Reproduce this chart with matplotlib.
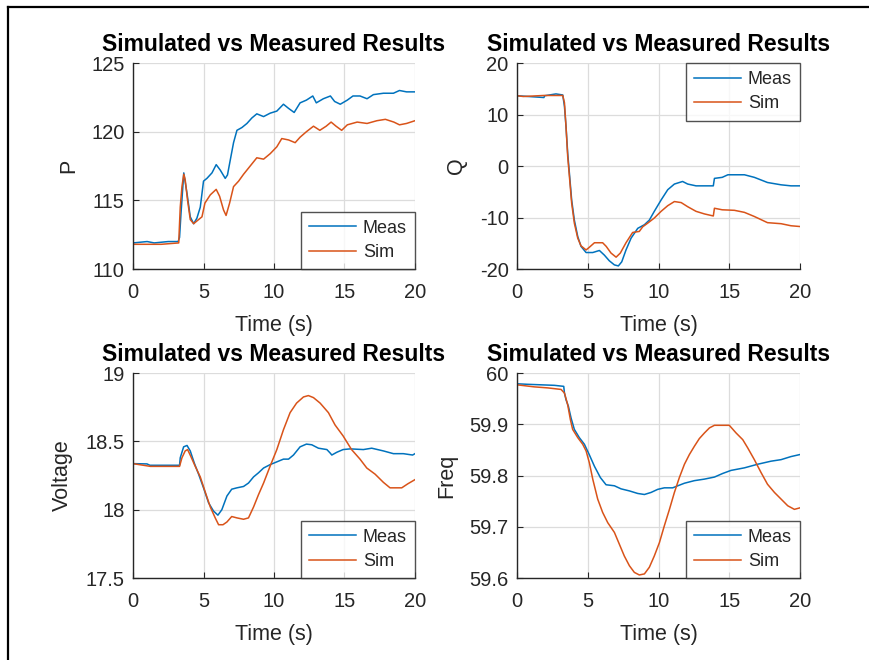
import matplotlib as mpl
mpl.use('Agg')
import matplotlib.pyplot as plt
from matplotlib.lines import Line2D

plt.rcParams['font.family'] = ['Liberation Sans', 'DejaVu Sans']

# ---- P ----
p_meas_t = [0, 1.0, 1.5, 2.5, 3.2, 3.3, 3.4, 3.6, 3.83, 4.06, 4.3, 4.53, 4.77, 5.0, 5.24, 5.6, 5.9, 6.19,
            6.54, 6.7, 6.9, 7.13, 7.37, 7.72, 8.08, 8.43, 8.78, 9.26, 9.73, 10.2, 10.67, 11.03, 11.43, 11.85,
            12.3, 12.75, 13.0, 13.5, 14.0, 14.3, 14.7, 15.2, 15.6, 16.1, 16.6, 17.05, 17.76, 18.47, 18.9,
            19.4, 20]
p_meas = [111.9, 112.0, 111.9, 112.0, 112.0, 112.3, 114.0, 117.0, 115.5, 113.8, 113.3, 113.7, 114.5, 116.4,
          116.6, 117.0, 117.6, 117.2, 116.6, 116.85, 117.95, 119.2, 120.1, 120.3, 120.6, 121.0, 121.3, 121.1,
          121.35, 121.5, 122.0, 121.7, 121.4, 122.1, 122.3, 122.6, 122.1, 122.4, 122.6, 122.2, 122.0, 122.3,
          122.6, 122.6, 122.4, 122.7, 122.8, 122.8, 123.0, 122.9, 122.9]
p_sim_t = [0, 1.0, 2.0, 3.24, 3.35, 3.47, 3.6, 3.7, 3.87, 4.06, 4.3, 4.65, 4.89, 5.1, 5.48, 5.9, 6.14, 6.42,
           6.6, 6.85, 7.13, 7.49, 7.84, 8.31, 8.78, 9.26, 9.73, 10.2, 10.55, 11.03, 11.5, 11.85, 12.3, 12.8,
           13.25, 13.7, 14.05, 14.4, 14.8, 15.2, 15.9, 16.6, 17.3, 17.9, 18.5, 18.9, 19.4, 20]
p_sim = [111.8, 111.8, 111.8, 111.9, 114.5, 116.0, 116.9, 116.5, 115.0, 113.6, 113.3, 113.6, 113.8, 114.8,
         115.4, 115.8, 115.3, 114.3, 113.9, 114.8, 116.0, 116.4, 116.9, 117.5, 118.1, 118.0, 118.4, 118.9,
         119.5, 119.4, 119.2, 119.6, 120.0, 120.4, 120.1, 120.4, 120.7, 120.4, 120.1, 120.5, 120.7, 120.6,
         120.8, 120.9, 120.7, 120.5, 120.6, 120.8]

# ---- Q ----
q_meas_t = [0, 1.9, 1.95, 2.75, 3.23, 3.35, 3.46, 3.58, 3.7, 3.86, 4.05, 4.29, 4.52, 4.88, 5.35, 5.82, 6.17,
            6.52, 6.88, 7.16, 7.4, 7.7, 8.06, 8.53, 9.0, 9.35, 9.7, 10.18, 10.65, 11.12, 11.7, 12.06, 12.65,
            13.24, 13.87, 13.95, 14.5, 14.9, 15.5, 16.07, 16.77, 17.7, 18.66, 19.36, 20]
q_meas = [13.65, 13.3, 13.65, 14.0, 13.8, 11.6, 7.7, 2.5, -1.4, -6.6, -10.5, -13.7, -15.6, -16.8, -16.8,
          -16.4, -17.3, -18.4, -19.2, -19.4, -18.6, -16.3, -14.0, -12.1, -11.4, -10.5, -8.8, -6.6, -4.6,
          -3.5, -3.0, -3.5, -3.85, -3.85, -3.85, -2.4, -2.2, -1.7, -1.7, -1.7, -2.2, -3.2, -3.65, -3.85, -3.85]
q_sim_t = [0, 0.45, 1.9, 3.23, 3.35, 3.46, 3.58, 3.7, 3.86, 4.05, 4.29, 4.52, 4.88, 5.1, 5.47, 6.05, 6.3,
           6.64, 7.0, 7.3, 7.7, 8.17, 8.64, 8.88, 9.23, 9.7, 10.18, 10.65, 11.12, 11.6, 12.06, 12.65, 13.24,
           13.87, 13.95, 14.5, 15.36, 16.07, 16.77, 17.7, 18.66, 19.36, 20]
q_sim = [13.65, 13.5, 13.7, 13.7, 12.3, 7.7, 1.85, -2.0, -7.2, -11.1, -14.0, -15.5, -16.3, -15.8, -14.9,
         -14.9, -15.6, -16.9, -17.7, -16.9, -14.9, -12.9, -12.7, -11.8, -11.1, -10.1, -8.8, -7.7, -6.9, -7.1,
         -7.9, -8.8, -9.3, -9.7, -8.2, -8.5, -8.6, -9.0, -9.8, -11.0, -11.2, -11.6, -11.75]

# ---- Voltage ----
v_meas_t = [0, 0.99, 1.2, 3.3, 3.35, 3.59, 3.83, 4.06, 4.35, 4.65, 5.0, 5.36, 5.71, 6.02, 6.3, 6.66, 7.0,
            7.37, 7.84, 8.19, 8.55, 8.9, 9.26, 9.73, 10.2, 10.67, 11.03, 11.38, 11.85, 12.3, 12.68, 13.15,
            13.75, 13.98, 14.1, 14.45, 14.9, 15.4, 16.34, 16.93, 17.76, 18.47, 19.17, 19.83, 20]
v_meas = [18.337, 18.335, 18.325, 18.325, 18.38, 18.46, 18.47, 18.43, 18.34, 18.26, 18.16, 18.05, 17.99,
          17.96, 18.0, 18.1, 18.15, 18.16, 18.17, 18.195, 18.24, 18.27, 18.305, 18.33, 18.35, 18.37, 18.37,
          18.40, 18.46, 18.48, 18.475, 18.45, 18.44, 18.415, 18.40, 18.42, 18.44, 18.445, 18.44, 18.45,
          18.43, 18.41, 18.41, 18.40, 18.41]
v_sim_t = [0, 1.23, 3.3, 3.47, 3.7, 3.87, 4.1, 4.4, 4.77, 5.12, 5.48, 5.83, 6.07, 6.38, 6.66, 7.0, 7.37,
           7.84, 8.19, 8.55, 8.9, 9.26, 9.73, 10.2, 10.67, 11.14, 11.6, 12.09, 12.44, 12.8, 13.27, 13.86,
           14.33, 14.9, 15.5, 16.1, 16.58, 17.17, 17.76, 18.23, 19.06, 19.5, 20]
v_sim = [18.337, 18.317, 18.317, 18.38, 18.43, 18.44, 18.39, 18.32, 18.24, 18.13, 18.02, 17.94, 17.89,
         17.89, 17.91, 17.95, 17.94, 17.93, 17.94, 18.02, 18.11, 18.195, 18.32, 18.44, 18.585, 18.71, 18.78,
         18.825, 18.835, 18.82, 18.78, 18.71, 18.62, 18.54, 18.44, 18.37, 18.305, 18.26, 18.2, 18.16, 18.16,
         18.19, 18.22]

# ---- Freq ----
f_meas_t = [0, 0.75, 2.64, 3.3, 3.35, 3.46, 3.63, 3.82, 4.05, 4.4, 4.76, 5.1, 5.47, 5.89, 6.29, 6.88, 7.35,
            7.94, 8.53, 9.0, 9.47, 9.94, 10.41, 11.0, 11.36, 11.83, 12.53, 13.24, 13.95, 14.53, 15.12, 16.07,
            17.0, 17.95, 18.66, 19.36, 20]
f_meas = [59.979, 59.978, 59.976, 59.974, 59.961, 59.948, 59.935, 59.912, 59.89, 59.874, 59.861, 59.841,
          59.818, 59.796, 59.782, 59.78, 59.774, 59.77, 59.765, 59.763, 59.767, 59.773, 59.776, 59.776,
          59.78, 59.785, 59.79, 59.793, 59.797, 59.804, 59.81, 59.815, 59.822, 59.828, 59.831, 59.837, 59.841]
f_sim_t = [0, 1.22, 2.17, 3.11, 3.35, 3.58, 3.77, 3.93, 4.29, 4.64, 4.88, 5.11, 5.35, 5.7, 6.05, 6.41, 6.88,
           7.23, 7.58, 7.94, 8.29, 8.64, 9.0, 9.35, 9.7, 10.06, 10.41, 10.77, 11.12, 11.47, 11.83, 12.18,
           12.53, 12.88, 13.24, 13.6, 13.95, 14.42, 15.0, 15.48, 15.95, 16.3, 16.77, 17.24, 17.7, 18.19,
           18.66, 19.13, 19.6, 20]
f_sim = [59.977, 59.973, 59.971, 59.968, 59.961, 59.938, 59.909, 59.89, 59.874, 59.861, 59.848, 59.825,
         59.793, 59.754, 59.728, 59.708, 59.689, 59.666, 59.643, 59.624, 59.611, 59.606, 59.608, 59.621,
         59.643, 59.669, 59.702, 59.734, 59.767, 59.796, 59.822, 59.841, 59.857, 59.872, 59.883, 59.893,
         59.898, 59.898, 59.898, 59.883, 59.87, 59.854, 59.831, 59.806, 59.783, 59.767, 59.754, 59.741,
         59.734, 59.737]

panels = [
    ('P', p_meas_t, p_meas, p_sim_t, p_sim, (110, 125), [110, 115, 120, 125], ['110', '115', '120', '125'], 'lower right'),
    ('Q', q_meas_t, q_meas, q_sim_t, q_sim, (-20, 20), [-20, -10, 0, 10, 20], ['-20', '-10', '0', '10', '20'], 'upper right'),
    ('Voltage', v_meas_t, v_meas, v_sim_t, v_sim, (17.5, 19), [17.5, 18, 18.5, 19], ['17.5', '18', '18.5', '19'], 'lower right'),
    ('Freq', f_meas_t, f_meas, f_sim_t, f_sim, (59.6, 60), [59.6, 59.7, 59.8, 59.9, 60], ['59.6', '59.7', '59.8', '59.9', '60'], 'lower right'),
]
positions = [[0.1529, 0.5924, 0.3241, 0.3121], [0.5943, 0.5924, 0.3253, 0.3121],
             [0.1529, 0.1242, 0.3241, 0.3106], [0.5943, 0.1242, 0.3253, 0.3106]]

blue = '#0072BD'
orange = '#D95319'
dark = '#262626'

fig = plt.figure(figsize=(8.7, 6.6), dpi=100)
for (ylab, mt, mv, st, sv, ylim, yt, ytl, loc), pos in zip(panels, positions):
    ax = fig.add_axes(pos)
    ax.plot(mt, mv, color=blue, lw=1.1, label='Meas')
    ax.plot(st, sv, color=orange, lw=1.1, label='Sim')
    ax.set_xlim(0, 20)
    ax.set_ylim(*ylim)
    ax.set_xticks([0, 5, 10, 15, 20])
    ax.set_yticks(yt)
    ax.set_yticklabels(ytl)
    ax.grid(True, color='#dcdcdc', lw=0.9)
    ax.set_axisbelow(True)
    for s in ['top', 'right']:
        ax.spines[s].set_visible(False)
    for s in ['left', 'bottom']:
        ax.spines[s].set_color(dark)
        ax.spines[s].set_linewidth(1.0)
    ax.tick_params(direction='in', length=4, width=0.8, color=dark, labelcolor=dark,
                   labelsize=14.5)
    ax.tick_params(axis='x', pad=10)
    ax.tick_params(axis='y', pad=6)
    ax.set_xlabel('Time (s)', fontsize=15.5, color=dark, labelpad=9.5)
    ax.set_ylabel(ylab, fontsize=15.5, color=dark, labelpad=9)
    ax.set_title('Simulated vs Measured Results', fontsize=16.5, fontweight='bold', pad=8.5)
    leg = ax.legend(loc=loc, fontsize=13, frameon=True, fancybox=False, borderaxespad=0.0,
                    handlelength=2.6, handletextpad=0.4, borderpad=0.45, labelspacing=0.4)
    leg.get_frame().set_edgecolor(dark)
    leg.get_frame().set_linewidth(1.0)
    for t in leg.get_texts():
        t.set_color(dark)

# border round the figure (left and top edges)
fig.add_artist(Line2D([8 / 870, 8 / 870], [0, 1 - 7 / 660], transform=fig.transFigure, color='black', lw=1.6))
fig.add_artist(Line2D([8 / 870, 1], [1 - 7 / 660, 1 - 7 / 660], transform=fig.transFigure, color='black', lw=1.6))

plt.savefig('out.png', dpi=100)
